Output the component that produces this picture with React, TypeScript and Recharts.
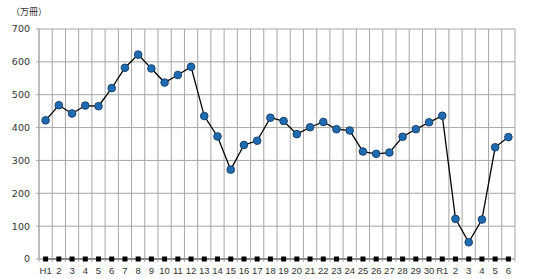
import React from "react";
import { LineChart, Line, XAxis, YAxis, CartesianGrid } from "recharts";

// 年度ラベル（H1〜H30, R1〜R6）
const years = [
  "H1", "2", "3", "4", "5", "6", "7", "8", "9", "10",
  "11", "12", "13", "14", "15", "16", "17", "18", "19", "20",
  "21", "22", "23", "24", "25", "26", "27", "28", "29", "30",
  "R1", "2", "3", "4", "5", "6",
];

// 万冊
const volumes = [
  422, 468, 443, 467, 465, 520, 582, 622, 580, 537,
  560, 585, 435, 373, 272, 347, 360, 430, 420, 380,
  401, 417, 395, 391, 327, 320, 324, 372, 395, 416,
  436, 122, 51, 120, 340, 371,
];

const baseline = years.map(() => 0);

const yTicks = [0, 100, 200, 300, 400, 500, 600, 700];

const data = years.map((y, i) => ({
  key: i,
  year: y,
  volume: volumes[i],
  base: baseline[i],
}));

const PLOT_W = 476;
const BAND = PLOT_W / years.length;

const SquareDot = (props: any) => {
  const { cx, cy } = props;
  if (cx == null || cy == null) return null;
  return <rect x={cx - 2.5} y={cy - 2.5} width={5} height={5} fill="#000" />;
};

const XTick = (props: any) => {
  const { x, y, payload, index } = props;
  const left = x - BAND / 2;
  return (
    <g>
      <line x1={left} x2={left} y1={y} y2={y + 3} stroke="#a6a6a6" />
      {index === years.length - 1 && (
        <line x1={left + BAND} x2={left + BAND} y1={y} y2={y + 3} stroke="#a6a6a6" />
      )}
      <text x={x} y={y + 15} textAnchor="middle" fontSize={9.5} fill="#333" fontFamily="'Liberation Sans', sans-serif">
        {years[payload.value]}
      </text>
    </g>
  );
};

export default function App() {
  const n = years.length;
  return (
    <div style={{ position: "absolute", left: 0, top: 0, width: 536, height: 279, background: "#fff", fontFamily: "'DejaVu Sans', sans-serif" }}>
      <div style={{ position: "absolute", left: 11, top: 5, fontSize: 9, color: "#333", fontFamily: "'Noto Sans CJK JP', sans-serif" }}>
        （万冊）
      </div>
      <LineChart width={536} height={279} data={data} margin={{ top: 29, right: 21, bottom: 4, left: 0 }}>
        <CartesianGrid
          stroke="#a6a6a6"
          strokeWidth={1}
          verticalCoordinatesGenerator={({ offset }: any) =>
            Array.from({ length: n + 1 }, (_, i) => offset.left + (i * offset.width) / n)
          }
        />
        <XAxis
          dataKey="key"
          scale="band"
          interval={0}
          height={16}
          tick={<XTick />}
          tickLine={false}
          tickSize={0}
          tickMargin={0}
          axisLine={{ stroke: "#a6a6a6" }}
        />
        <YAxis
          width={39}
          domain={[0, 700]}
          ticks={yTicks}
          interval={0}
          tick={{ fontSize: 9.5, fill: "#333" }}
          tickSize={3}
          tickMargin={6}
          tickLine={{ stroke: "#a6a6a6" }}
          axisLine={{ stroke: "#a6a6a6" }}
        />
        <Line
          dataKey="base"
          stroke="#000"
          strokeWidth={1}
          dot={<SquareDot />}
          isAnimationActive={false}
        />
        <Line
          dataKey="volume"
          stroke="#000"
          strokeWidth={1.3}
          dot={{ r: 3.8, fill: "#1f6cb3", stroke: "#17426e", strokeWidth: 1 }}
          isAnimationActive={false}
        />
      </LineChart>
    </div>
  );
}
